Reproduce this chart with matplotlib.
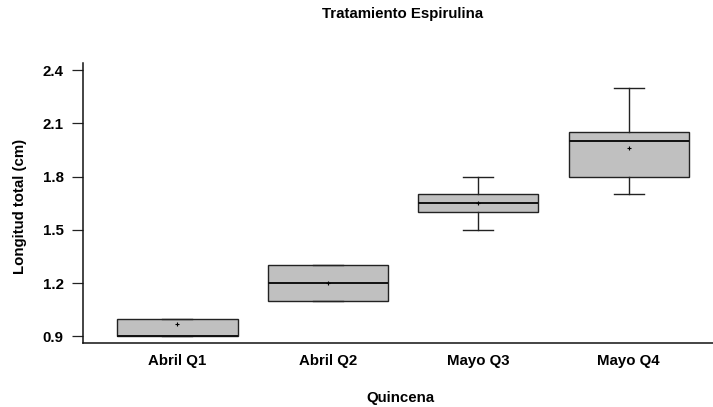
import matplotlib
matplotlib.use("Agg")
import matplotlib.pyplot as plt

# Longitud total por quincena (cm)
categorias = ["Abril Q1", "Abril Q2", "Mayo Q3", "Mayo Q4"]
minimos = [0.9, 1.1, 1.5, 1.7]
q1 = [0.9, 1.1, 1.6, 1.8]
medianas = [0.9, 1.2, 1.65, 2.0]
q3 = [1.0, 1.3, 1.7, 2.05]
maximos = [1.0, 1.3, 1.8, 2.3]
medias = [0.97, 1.2, 1.65, 1.96]
yticks = [0.9, 1.2, 1.5, 1.8, 2.1, 2.4]

plt.rcParams["font.family"] = ["Liberation Sans", "DejaVu Sans"]
plt.rcParams["font.weight"] = "bold"

fig = plt.figure(figsize=(7.13, 4.07), dpi=100)
ax = fig.add_axes([0.1164, 0.1572, 0.8836, 0.6878])

stats = []
for lbl, lo, a, m, b, hi, mu in zip(categorias, minimos, q1, medianas, q3, maximos, medias):
    stats.append(dict(label=lbl, whislo=lo, q1=a, med=m, q3=b, whishi=hi, mean=mu, fliers=[]))

posiciones = list(range(1, len(categorias) + 1))
ax.bxp(stats, positions=posiciones, widths=0.8, patch_artist=True, showmeans=True,
       boxprops=dict(facecolor="#c0c0c0", edgecolor="#222222", linewidth=1.0),
       medianprops=dict(color="#111111", linewidth=1.4),
       whiskerprops=dict(color="#222222", linewidth=1.0),
       capprops=dict(color="#222222", linewidth=1.0),
       capwidths=0.2,
       meanprops=dict(marker="+", markeredgecolor="black", markersize=3.5, markeredgewidth=0.8))

ax.set_xlim(0.373, 4.56)
ax.set_ylim(0.863, 2.44)
ax.set_yticks(yticks)
ax.set_yticklabels([f"{v:.1f}" for v in yticks], fontsize=10.8, fontweight="bold")
ax.set_xticks(posiciones)
ax.set_xticklabels(categorias, fontsize=10.8, fontweight="bold")
ax.tick_params(axis="x", length=0, pad=8)
ax.tick_params(axis="y", length=8, width=0.9, pad=6, color="#222222")

for s in ["top", "right"]:
    ax.spines[s].set_visible(False)
for s in ["left", "bottom"]:
    ax.spines[s].set_linewidth(1.1)
    ax.spines[s].set_color("#111111")

fig.text(0.028, 0.494, "Longitud total (cm)", rotation=90, ha="center", va="center",
         fontsize=10.8, fontweight="bold")
fig.text(0.561, 0.022, "Quincena", ha="center", va="center",
         fontsize=10.8, fontweight="bold")
fig.text(0.565, 0.966, "Tratamiento Espirulina", ha="center", va="center",
         fontsize=10.8, fontweight="bold")

fig.savefig("out.png", dpi=100)
